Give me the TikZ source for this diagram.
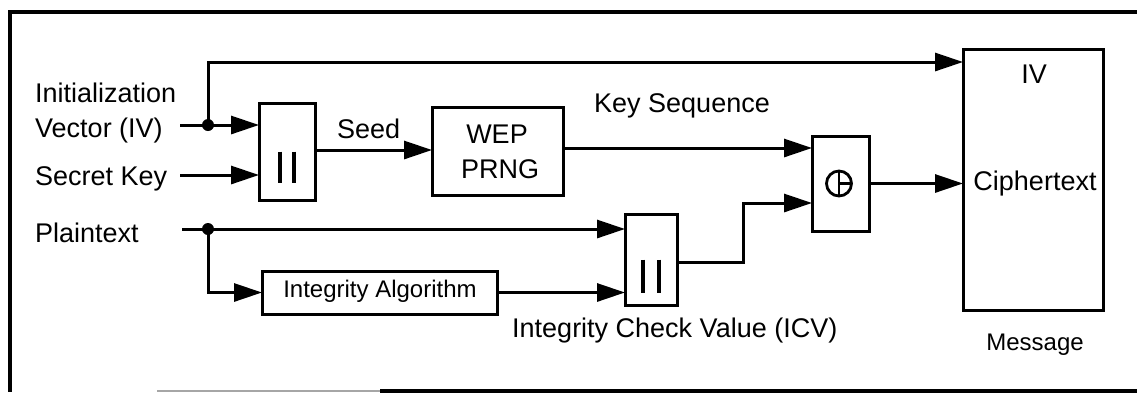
\documentclass[tikz,border=0pt]{standalone}
\usepackage{fontspec}
\setmainfont{Liberation Sans}
\usetikzlibrary{arrows.meta,calc}
\tikzset{
  blk/.style={draw,line width=3pt,minimum width=#1,inner sep=0pt,outer sep=0pt},
  arr/.style={line width=3pt,-{Triangle[length=28pt,width=18pt]}},
  wire/.style={line width=3pt},
  lbl/.style={anchor=base west,inner sep=0pt,font=\fontsize{27}{31}\selectfont},
  clbl/.style={anchor=base,inner sep=0pt,font=\fontsize{27}{31}\selectfont},
  slbl/.style={anchor=base,inner sep=0pt,font=\fontsize{24}{28}\selectfont},
  dot/.style={circle,fill,inner sep=0pt,minimum size=12pt},
}
\begin{document}
\begin{tikzpicture}[x=1pt,y=-1pt]
\useasboundingbox (0,0) rectangle (1137,392);
% outer frame
\draw[line width=3.2pt] (1137,12) -- (10,12) -- (10,392);
\draw[line width=2.5pt,black!35] (157,391) -- (380,391);
\draw[line width=3.2pt] (380,391) -- (1137,391);

% blocks
\node[blk=56pt,minimum height=97pt]  (cat1) at (287,151.5) {};
\node[blk=131pt,minimum height=88pt] (wep)  at (497.5,151) {};
\node[blk=57pt,minimum height=95pt]  (xor)  at (840.5,183.5) {};
\node[blk=140pt,minimum height=261pt](msg)  at (1033,179.5) {};
\node[blk=52pt,minimum height=91pt]  (cat2) at (651,259.5) {};
\node[blk=235pt,minimum height=43pt] (ia)   at (379.5,292.5) {};

% concatenation bars
\draw[line width=3.4pt] ($(cat1.center)+(-7,0)$) -- ++(0,31);
\draw[line width=3.4pt] ($(cat1.center)+(7,0)$) -- ++(0,31);
\draw[line width=3.4pt] ($(cat2.center)+(-8,0)$) -- ++(0,33);
\draw[line width=3.4pt] ($(cat2.center)+(8,0)$) -- ++(0,33);
% xor symbol
\draw[line width=2.8pt] ($(xor.center)+(-1.5,0)$) circle (12.5pt);
\draw[line width=2.8pt] ($(xor.center)+(-1.5,-12.5)$) -- ++(0,25);
\draw[line width=2.8pt] ($(xor.center)+(-1.5,0)$) -- ++(12.5,0);

% block texts
\node[clbl] (tw) at (497,143) {WEP};
\node[clbl] (tp) at (500,178) {PRNG};
\node[clbl] (tiv) at (1034,83) {IV};
\node[clbl] (tct) at (1035,190) {Ciphertext};
\node[slbl] (tia) at (380,297) {Integrity Algorithm};

% free labels
\node[lbl] (l1) at (35,102) {Initialization};
\node[lbl] (l2) at (35,137) {Vector (IV)};
\node[lbl] (l3) at (35,185) {Secret Key};
\node[lbl] (l4) at (35,242) {Plaintext};
\node[lbl] (l5) at (337,138) {Seed};
\node[lbl] (l6) at (594,112) {Key Sequence};
\node[lbl] (l7) at (512,337) {Integrity Check Value (ICV)};
\node[slbl] (l8) at (1035,350) {Message};

% connector end points
\coordinate (ivin) at (180,125);
\coordinate (ivj)  at (208,125);
\coordinate (skin) at (180,175);
\coordinate (ptin) at (182,229);
\coordinate (ptj)  at (208,229);
\coordinate (icvb) at (743,203);

% connectors
\draw[wire] (ivin) -- (ivj);
\draw[arr] (ivj) -- (ivj -| cat1.west);
\draw[arr] (ivj) |- (msg.west |- 0,62);
\draw[arr] (skin) -- (skin -| cat1.west);
\draw[arr] (cat1.east |- 0,150) -- (wep.west |- 0,150);
\draw[arr] (wep.east |- 0,148) -- (xor.west |- 0,148);
\draw[arr] (xor.east) -- (msg.west |- xor.east);
\draw[wire] (ptin) -- (ptj);
\draw[arr] (ptj) -- (ptj -| cat2.west);
\draw[arr] (ptj) |- (ia.west);
\draw[arr] (ia.east) -- (ia.east -| cat2.west);
\draw[arr] (cat2.east |- 0,262) -| (icvb) -- (icvb -| xor.west);
\node[dot] (d1) at (ivj) {};
\node[dot] (d2) at (ptj) {};
\end{tikzpicture}
\end{document}
